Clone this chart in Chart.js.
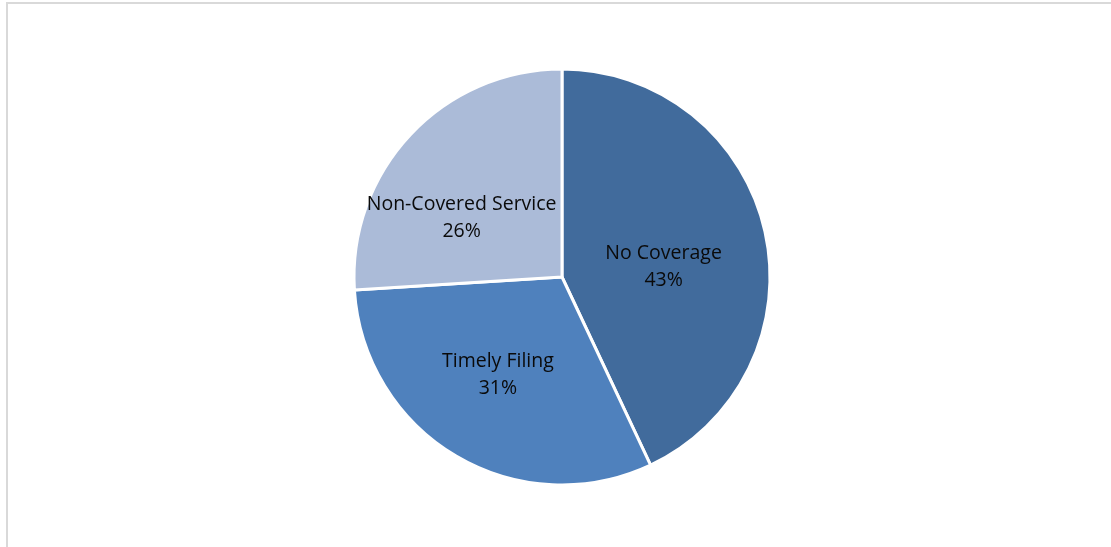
<!DOCTYPE html>
<html>
<head>
<meta charset="utf-8">
<script src="https://cdn.jsdelivr.net/npm/chart.js@4.4.1/dist/chart.umd.min.js"></script>
<style>
  html, body { margin: 0; padding: 0; background: #fff; }
  #wrap { position: relative; width: 1111px; height: 547px; }
</style>
</head>
<body>
<div id="wrap"><canvas id="chart-denials" width="1111" height="547"></canvas></div>
<script>
const categories = ['No Coverage', 'Timely Filing', 'Non-Covered Service'];
const shares = [43, 31, 26];
const sliceColors = ['#416b9c', '#4f81bd', '#abbbd8'];
// small per-slice shifts so each label sits where it fits best
const labelNudge = [[-6, 13], [-8, 3], [-20, 16]];

// outer frame around the plot
const framePlugin = {
  id: 'frame',
  beforeDraw(chart) {
    const ctx = chart.ctx;
    ctx.save();
    ctx.strokeStyle = '#d9d9d9';
    ctx.lineWidth = 2;
    ctx.strokeRect(7, 3, chart.width + 10, chart.height + 10);
    ctx.restore();
  }
};

// category name + percentage inside each slice
const sliceLabels = {
  id: 'sliceLabels',
  afterDatasetsDraw(chart) {
    const ctx = chart.ctx;
    const meta = chart.getDatasetMeta(0);
    const total = shares.reduce((a, b) => a + b, 0);
    ctx.save();
    ctx.font = '19.5px "Open Sans", sans-serif';
    ctx.fillStyle = '#0a0a0a';
    ctx.textAlign = 'center';
    ctx.textBaseline = 'middle';
    meta.data.forEach((arc, i) => {
      const mid = (arc.startAngle + arc.endAngle) / 2;
      const r = arc.outerRadius * 0.53;
      const x = arc.x + Math.cos(mid) * r + labelNudge[i][0];
      const y = arc.y + Math.sin(mid) * r + labelNudge[i][1];
      const pct = Math.round(shares[i] / total * 100) + '%';
      ctx.fillText(categories[i], x, y - 13);
      ctx.fillText(pct, x, y + 14);
    });
    ctx.restore();
  }
};

new Chart(document.getElementById('chart-denials').getContext('2d'), {
  type: 'pie',
  data: {
    labels: categories,
    datasets: [{
      data: shares,
      backgroundColor: sliceColors,
      borderColor: '#ffffff',
      borderWidth: 3
    }]
  },
  options: {
    responsive: false,
    animation: false,
    radius: 208,
    layout: { padding: { left: 13, top: 7 } },
    plugins: {
      legend: { display: false },
      tooltip: { enabled: false }
    }
  },
  plugins: [framePlugin, sliceLabels]
});
</script>
</body>
</html>
